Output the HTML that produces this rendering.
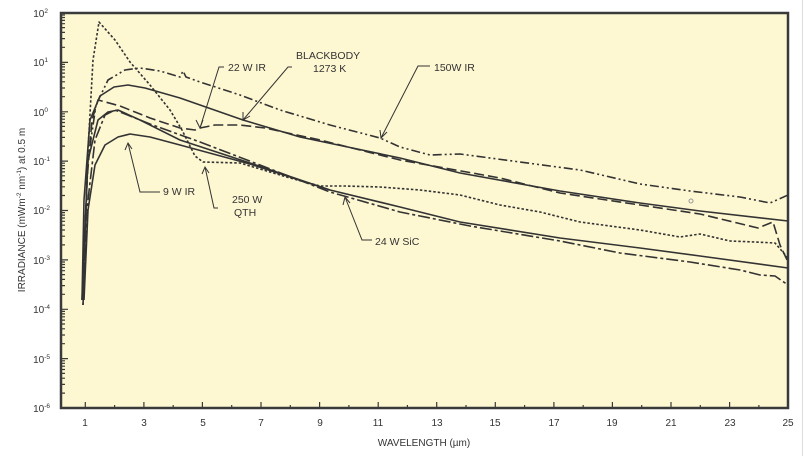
<!DOCTYPE html>
<html><head><meta charset="utf-8"><style>
html,body{margin:0;padding:0;background:#fff;}
svg{display:block;font-family:"Liberation Sans",sans-serif;}
</style></head><body>
<svg width="804" height="456" viewBox="0 0 804 456" xmlns="http://www.w3.org/2000/svg">
<rect x="0" y="0" width="804" height="456" fill="#fff"/>
<line x1="802.5" y1="0" x2="802.5" y2="456" stroke="#ddd"/>
<rect x="61" y="13" width="727" height="395" fill="#fdf7d2" stroke="#3a3a3a" stroke-width="2.5"/>
<g stroke="#3a3a3a" stroke-width="1.2">
<path d="M85.3 408v-6M114.6 408v-3M143.9 408v-6M173.2 408v-3M202.4 408v-6M231.7 408v-3M261 408v-6M290.3 408v-3M319.6 408v-6M348.9 408v-3M378.2 408v-6M407.4 408v-3M436.7 408v-6M466 408v-3M495.3 408v-6M524.6 408v-3M553.9 408v-6M583.2 408v-3M612.4 408v-6M641.7 408v-3M671 408v-6M700.3 408v-3M729.6 408v-6M758.9 408v-3"/>
<path d="M61 13h7M61 62.4h7M61 111.8h7M61 161.1h7M61 210.5h7M61 259.9h7M61 309.3h7M61 358.6h7"/>
<path id="mt" d="M61 393.1h4M61 384.4h4M61 378.2h4M61 373.4h4M61 369.5h4M61 366.2h4M61 363.3h4M61 360.8h4"/>
<use href="#mt" y="-49.4"/><use href="#mt" y="-98.8"/><use href="#mt" y="-148.2"/><use href="#mt" y="-197.6"/><use href="#mt" y="-247"/><use href="#mt" y="-296.4"/><use href="#mt" y="-345.8"/>
</g>
<g font-size="10" fill="#333" text-anchor="middle">
<text x="85" y="426">1</text><text x="144" y="426">3</text><text x="203" y="426">5</text><text x="261" y="426">7</text><text x="320" y="426">9</text><text x="378" y="426">11</text><text x="437" y="426">13</text><text x="495" y="426">15</text><text x="554" y="426">17</text><text x="612" y="426">19</text><text x="671" y="426">21</text><text x="730" y="426">23</text><text x="788" y="426">25</text>
</g>
<g font-size="10" fill="#333" text-anchor="end">
<text x="48" y="17">10<tspan font-size="6.5" dy="-4">2</tspan></text>
<text x="48" y="66">10<tspan font-size="6.5" dy="-4">1</tspan></text>
<text x="48" y="116">10<tspan font-size="6.5" dy="-4">0</tspan></text>
<text x="50" y="165">10<tspan font-size="6.5" dy="-4">-1</tspan></text>
<text x="50" y="214">10<tspan font-size="6.5" dy="-4">-2</tspan></text>
<text x="50" y="264">10<tspan font-size="6.5" dy="-4">-3</tspan></text>
<text x="50" y="313">10<tspan font-size="6.5" dy="-4">-4</tspan></text>
<text x="50" y="363">10<tspan font-size="6.5" dy="-4">-5</tspan></text>
<text x="50" y="412">10<tspan font-size="6.5" dy="-4">-6</tspan></text>
</g>
<text x="424" y="446" font-size="10" fill="#333" text-anchor="middle">WAVELENGTH (µm)</text>
<text transform="translate(25,210) rotate(-90)" font-size="10" fill="#333" text-anchor="middle">IRRADIANCE (mWm<tspan font-size="6.5" dy="-4">-2</tspan><tspan dy="4"> nm</tspan><tspan font-size="6.5" dy="-4">-1</tspan><tspan dy="4">) at 0.5 m</tspan></text>
<g fill="none" stroke="#333" stroke-width="1.6" stroke-linejoin="round">
<path d="M82 300L84 200L90 120L100 96L114 87L128 85L145 88L180 98L243 120L300 137L400 158L460 173L560 191L640 203L700 211L788 221"/>
<path d="M83 270L88 160L98 120L108 112L118 110L140 120L180 140L250 163L330 190L400 207L460 222L560 238L640 248L700 256L788 268"/>
<path d="M84 300L88 210L95 165L105 145L118 137L130 134L150 137L180 145L250 164L330 190"/>
<path stroke-dasharray="9,3,2,3,2,3" d="M82 300L88 160L96 105L108 80L125 70L140 68L160 71L180 77L183 71L186 77L200 82L240 95L280 110L330 125L380 138L400 147L430 155L460 154L520 162L580 170L640 184L690 191L740 197L770 203L788 195"/>
<path stroke-dasharray="10,4" d="M83 300L87 180L92 120L98 100L120 106L150 118L180 128L195 130L200 128L215 125L240 125L265 128L320 140L400 160L500 178L560 193L640 205L700 214L758 228L773 222L780 245L788 262"/>
<path stroke-dasharray="12,3,3,3" d="M83 305L88 200L95 140L105 115L115 110L150 124L200 142L260 165L330 192L400 212L470 226L560 241L620 253L690 262L740 270L760 275L775 276L788 285"/>
<path stroke-dasharray="2.5,2" d="M83 305L88 150L93 60L99 22L115 40L130 62L150 85L170 110L182 130L195 156L203 162L240 163L290 178L320 186L345 186L380 187L420 190L460 195L500 205L540 212L580 222L640 230L680 237L700 234L730 241L755 242L775 243L788 258"/>
</g>
<g fill="none" stroke="#333" stroke-width="1">
<path d="M224 67H219L200 128"/><path d="M196 120L200 128L203 120" />
<path d="M292 67H288L243 120"/><path d="M243 112L243 120L250 116"/>
<path d="M430 66H418L381 138"/><path d="M380 130L381 138L387 132"/>
<path d="M160 192H140L128 143"/><path d="M125 150L128 143L132 149"/>
<path d="M218 208H214L205 167"/><path d="M202 174L205 167L209 173"/>
<path d="M372 240H362L345 197"/><path d="M343 205L345 197L350 203"/>
</g>
<circle cx="691" cy="201" r="2" fill="none" stroke="#999"/>
<g font-size="10.5" fill="#333">
<text x="228" y="71">22 W IR</text>
<text x="296" y="59">BLACKBODY</text>
<text x="313" y="72">1273 K</text>
<text x="434" y="71">150W IR</text>
<text x="163" y="195">9 W IR</text>
<text x="232" y="203">250 W</text>
<text x="234" y="216">QTH</text>
<text x="375" y="245">24 W SiC</text>
</g>
</svg>
</body></html>
